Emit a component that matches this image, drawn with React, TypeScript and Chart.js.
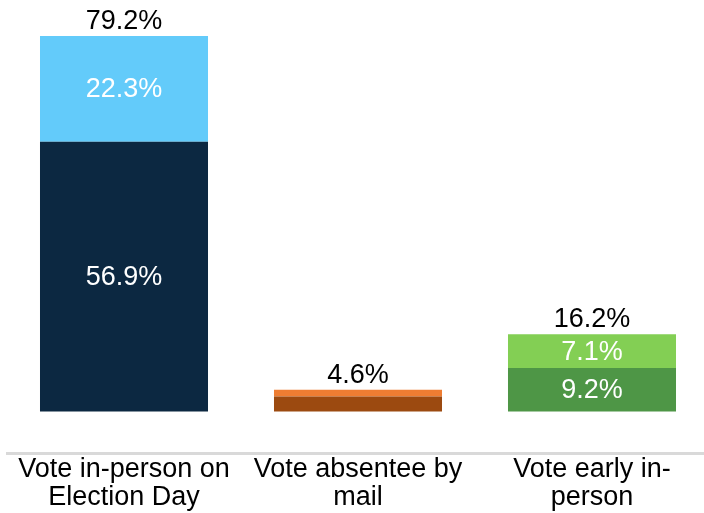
import React, { useEffect, useRef } from "react";
import { Chart, registerables } from "chart.js";

Chart.register(...registerables);

const categories: string[][] = [
  ["Vote in-person on", "Election Day"],
  ["Vote absentee by", "mail"],
  ["Vote early in-", "person"],
];
const bottomValues = [56.9, 3.2, 9.2];
const topValues = [22.3, 1.4, 7.1];
const totals = [79.2, 4.6, 16.2];
const bottomColors = ["#0C2841", "#9C4A10", "#4E9646"];
const topColors = ["#63CBFA", "#EE7D32", "#83CF54"];
const showSegmentLabel = [true, false, true];

const FONT = "'Liberation Sans', Arial, sans-serif";

const labelPlugin = {
  id: "valueLabels",
  afterDatasetsDraw(chart: any) {
    const ctx = chart.ctx;
    ctx.save();
    ctx.font = `27px ${FONT}`;
    ctx.textAlign = "center";
    chart.data.datasets.forEach((ds: any, di: number) => {
      const meta = chart.getDatasetMeta(di);
      meta.data.forEach((bar: any, i: number) => {
        if (!showSegmentLabel[i]) return;
        const { x, y, base } = bar.getProps(["x", "y", "base"], true);
        ctx.fillStyle = "#ffffff";
        ctx.textBaseline = "middle";
        ctx.fillText(ds.data[i].toFixed(1) + "%", x, (y + base) / 2 + 1);
      });
    });
    const topMeta = chart.getDatasetMeta(chart.data.datasets.length - 1);
    topMeta.data.forEach((bar: any, i: number) => {
      const { x, y } = bar.getProps(["x", "y"], true);
      ctx.fillStyle = "#000000";
      ctx.textBaseline = "bottom";
      ctx.fillText(totals[i].toFixed(1) + "%", x, y - 1);
    });
    ctx.restore();
  },
};

export default function App() {
  const ref = useRef<HTMLCanvasElement>(null);
  useEffect(() => {
    if (!ref.current) return;
    const chart = new Chart(ref.current, {
      type: "bar",
      data: {
        labels: categories as any,
        datasets: [
          {
            data: bottomValues,
            backgroundColor: bottomColors,
            borderWidth: 0,
            barPercentage: 0.718,
            categoryPercentage: 1,
          },
          {
            data: topValues,
            backgroundColor: topColors,
            borderWidth: 0,
            barPercentage: 0.718,
            categoryPercentage: 1,
          },
        ],
      },
      options: {
        animation: false,
        responsive: false,
        maintainAspectRatio: false,
        layout: { padding: { left: 7, right: 3, top: 0, bottom: 0 } },
        plugins: {
          legend: { display: false },
          tooltip: { enabled: false },
        },
        scales: {
          x: {
            stacked: true,
            grid: { display: false, drawTicks: false },
            border: { display: true, color: "#D9D9D9", width: 3 },
            ticks: {
              color: "#000000",
              font: { family: FONT, size: 27, lineHeight: 1.06 },
              padding: 1,
              maxRotation: 0,
              autoSkip: false,
            },
          },
          y: {
            stacked: true,
            display: false,
            min: -8.9,
            max: 86.82,
          },
        },
      },
      plugins: [labelPlugin],
    });
    return () => chart.destroy();
  }, []);
  return (
    <div style={{ position: "absolute", left: 0, top: 0, width: 704, height: 513, overflow: "hidden", background: "#fff" }}>
      <canvas ref={ref} width={712} height={513} style={{ width: 712, height: 513 }} />
    </div>
  );
}
